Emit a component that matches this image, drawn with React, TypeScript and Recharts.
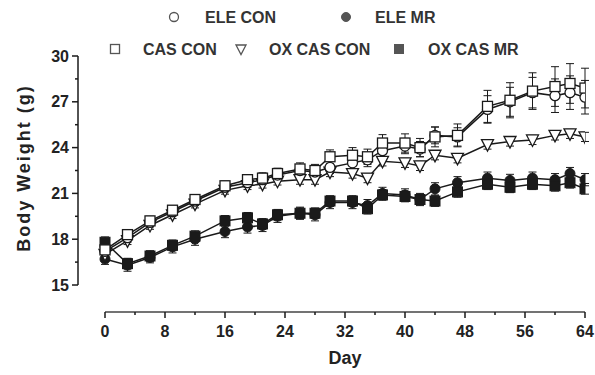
import React from 'react';
import { LineChart, Line, XAxis, YAxis, ErrorBar, ReferenceLine } from 'recharts';

const days = [0, 3, 6, 9, 12, 16, 19, 21, 23, 26, 28, 30, 33, 35, 37, 40, 42, 44, 47, 51, 54, 57, 60, 62, 64];

const casCon = [17.3, 18.3, 19.2, 19.9, 20.6, 21.5, 21.9, 22.0, 22.3, 22.6, 22.5, 23.4, 23.5, 23.4, 24.3, 24.3, 24.0, 24.7, 24.8, 26.7, 27.1, 27.7, 28.0, 28.2, 27.9];
const casConErr = [0.3, 0.3, 0.3, 0.3, 0.3, 0.3, 0.3, 0.35, 0.35, 0.4, 0.4, 0.45, 0.5, 0.5, 0.55, 0.6, 0.6, 0.65, 0.75, 1.05, 1.15, 1.2, 1.3, 1.3, 1.3];

const eleCon = [17.2, 18.1, 19.1, 19.8, 20.5, 21.4, 21.7, 21.9, 22.2, 22.5, 22.4, 22.7, 23.0, 23.2, 23.8, 24.1, 23.9, 24.8, 24.7, 26.5, 27.0, 27.6, 27.4, 27.6, 27.3];
const eleConErr = [0.3, 0.3, 0.3, 0.3, 0.3, 0.3, 0.3, 0.3, 0.35, 0.35, 0.35, 0.4, 0.4, 0.45, 0.5, 0.5, 0.5, 0.55, 0.6, 0.9, 0.95, 1.0, 1.1, 1.1, 1.1];

const oxCasCon = [17.0, 17.9, 18.9, 19.6, 20.3, 21.2, 21.5, 21.6, 21.8, 21.9, 21.9, 22.4, 22.3, 22.0, 23.1, 23.0, 22.8, 23.5, 23.3, 24.2, 24.4, 24.5, 24.8, 24.9, 24.7];
const oxCasConErr = [0.25, 0.25, 0.25, 0.25, 0.25, 0.25, 0.25, 0.25, 0.25, 0.3, 0.3, 0.3, 0.3, 0.3, 0.3, 0.3, 0.3, 0.3, 0.3, 0.3, 0.3, 0.3, 0.3, 0.3, 0.3];

const eleMr = [16.7, 16.3, 16.8, 17.5, 18.0, 18.5, 18.8, 18.9, 19.5, 19.7, 19.6, 20.4, 20.4, 20.2, 21.0, 20.9, 20.6, 21.3, 21.7, 22.0, 21.85, 22.0, 21.9, 22.3, 21.9];
const eleMrErr = [0.35, 0.4, 0.35, 0.4, 0.4, 0.4, 0.4, 0.4, 0.4, 0.4, 0.4, 0.4, 0.4, 0.4, 0.4, 0.4, 0.4, 0.4, 0.4, 0.4, 0.4, 0.4, 0.4, 0.4, 0.4];

const oxCasMr = [17.8, 16.4, 16.9, 17.6, 18.2, 19.2, 19.4, 19.0, 19.6, 19.7, 19.7, 20.5, 20.5, 20.0, 20.9, 20.8, 20.6, 20.5, 21.1, 21.6, 21.4, 21.6, 21.5, 21.7, 21.3];
const oxCasMrErr = [0.35, 0.35, 0.35, 0.35, 0.35, 0.35, 0.35, 0.35, 0.35, 0.35, 0.35, 0.35, 0.35, 0.35, 0.35, 0.35, 0.35, 0.35, 0.35, 0.35, 0.35, 0.35, 0.35, 0.35, 0.35];

const xTicks = [0, 4, 8, 12, 16, 20, 24, 28, 32, 36, 40, 44, 48, 52, 56, 60, 64];
const xLabelTicks = [0, 8, 16, 24, 32, 40, 48, 56, 64];
const yTicks = [15, 16.5, 18, 19.5, 21, 22.5, 24, 25.5, 27, 28.5, 30];
const yLabelTicks = [15, 18, 21, 24, 27, 30];

const xDomainMin = -3.6;
const yDomainMin = 13.232;

const data = days.map((d, i) => ({
  day: d,
  casCon: casCon[i], casConErr: casConErr[i],
  eleCon: eleCon[i], eleConErr: eleConErr[i],
  oxCasCon: oxCasCon[i], oxCasConErr: oxCasConErr[i],
  eleMr: eleMr[i], eleMrErr: eleMrErr[i],
  oxCasMr: oxCasMr[i], oxCasMrErr: oxCasMrErr[i],
}));

const INK = '#1a1a1a';
const FONT = "Arial, 'Liberation Sans', Helvetica, sans-serif";

type ShapeKind = 'openCircle' | 'filledCircle' | 'openSquare' | 'triangle' | 'filledSquare';

const drawShape = (kind: ShapeKind, cx: number, cy: number, s: number, stroke: string, key?: any) => {
  const h = s / 2;
  switch (kind) {
    case 'openCircle':
      return <circle key={key} cx={cx} cy={cy} r={h} fill="#fff" stroke={stroke} strokeWidth={1.3} />;
    case 'filledCircle':
      return <circle key={key} cx={cx} cy={cy} r={h} fill={stroke} stroke={stroke} strokeWidth={1} />;
    case 'openSquare':
      return <rect key={key} x={cx - h} y={cy - h} width={s} height={s} fill="#fff" stroke={stroke} strokeWidth={1.3} />;
    case 'filledSquare':
      return <rect key={key} x={cx - h} y={cy - h} width={s} height={s} fill={stroke} stroke={stroke} strokeWidth={1} />;
    case 'triangle':
    default:
      return (
        <polygon
          key={key}
          points={`${cx - h - 0.5},${cy - h + 0.5} ${cx + h + 0.5},${cy - h + 0.5} ${cx},${cy + h + 1}`}
          fill="#fff"
          stroke={stroke}
          strokeWidth={1.3}
        />
      );
  }
};

const makeDot = (kind: ShapeKind, size: number) => (p: any) => {
  if (p.cx == null || p.cy == null) return <g key={p.key} />;
  return drawShape(kind, p.cx, p.cy, size, INK, p.key);
};

const YTick = (props: any) => {
  const { x, y, payload } = props;
  const v = payload.value;
  const major = yLabelTicks.includes(v);
  return (
    <g>
      <line x1={x - (major ? 6 : 3)} x2={x} y1={y} y2={y} stroke={INK} strokeWidth={1.5} />
      {major && (
        <text x={x - 9} y={y} dy={5.5} textAnchor="end" fontSize={16} fontWeight="bold" fontFamily={FONT} fill="#222">
          {v}
        </text>
      )}
    </g>
  );
};

const XTick = (props: any) => {
  const { x, y, payload } = props;
  const v = payload.value;
  const major = xLabelTicks.includes(v);
  return (
    <g>
      <line x1={x} x2={x} y1={y} y2={y + (major ? 6 : 3)} stroke={INK} strokeWidth={1.5} />
      {major && (
        <text x={x} y={y + 25} textAnchor="middle" fontSize={16} fontWeight="bold" fontFamily={FONT} fill="#222">
          {v}
        </text>
      )}
    </g>
  );
};

const legendRow1: { kind: ShapeKind; label: string; mx: number; tx: number }[] = [
  { kind: 'openCircle', label: 'ELE CON', mx: 174, tx: 205 },
  { kind: 'filledCircle', label: 'ELE MR', mx: 346, tx: 375 },
];
const legendRow2: { kind: ShapeKind; label: string; mx: number; tx: number }[] = [
  { kind: 'openSquare', label: 'CAS CON', mx: 115, tx: 143 },
  { kind: 'triangle', label: 'OX CAS CON', mx: 241, tx: 269 },
  { kind: 'filledSquare', label: 'OX CAS MR', mx: 399, tx: 428 },
];

export default function App() {
  return (
    <div style={{ position: 'absolute', left: 0, top: 0, width: 595, height: 375, background: '#fff' }}>
      <LineChart
        width={595}
        height={375}
        data={data}
        margin={{ top: 56, right: 10, bottom: 0, left: 0 }}
      >
        <XAxis
          dataKey="day"
          type="number"
          domain={[xDomainMin, 64]}
          ticks={xTicks}
          interval={0}
          axisLine={false}
          tickLine={false}
          tickSize={0}
          tickMargin={0}
          height={63}
          tick={<XTick />}
          allowDataOverflow
        />
        <YAxis
          type="number"
          domain={[yDomainMin, 30]}
          ticks={yTicks}
          interval={0}
          axisLine={false}
          tickLine={false}
          tickSize={0}
          tickMargin={0}
          width={78}
          tick={<YTick />}
          allowDataOverflow
        />
        <ReferenceLine
          segment={[{ x: xDomainMin, y: 15 }, { x: xDomainMin, y: 30 }]}
          stroke={INK}
          strokeWidth={1.5}
          ifOverflow="visible"
        />
        <ReferenceLine
          segment={[{ x: 0, y: yDomainMin }, { x: 64, y: yDomainMin }]}
          stroke="#444"
          strokeWidth={1.5}
          ifOverflow="visible"
        />
        <Line dataKey="eleMr" stroke={INK} strokeWidth={1.5} isAnimationActive={false} dot={makeDot('filledCircle', 10)} activeDot={false}>
          <ErrorBar dataKey="eleMrErr" width={4} stroke={INK} strokeWidth={1} direction="y" />
        </Line>
        <Line dataKey="oxCasMr" stroke={INK} strokeWidth={1.5} isAnimationActive={false} dot={makeDot('filledSquare', 10)} activeDot={false}>
          <ErrorBar dataKey="oxCasMrErr" width={4} stroke={INK} strokeWidth={1} direction="y" />
        </Line>
        <Line dataKey="oxCasCon" stroke={INK} strokeWidth={1.5} isAnimationActive={false} dot={makeDot('triangle', 11)} activeDot={false}>
          <ErrorBar dataKey="oxCasConErr" width={4} stroke={INK} strokeWidth={1} direction="y" />
        </Line>
        <Line dataKey="eleCon" stroke={INK} strokeWidth={1.5} isAnimationActive={false} dot={makeDot('openCircle', 10)} activeDot={false}>
          <ErrorBar dataKey="eleConErr" width={4} stroke={INK} strokeWidth={1} direction="y" />
        </Line>
        <Line dataKey="casCon" stroke={INK} strokeWidth={1.5} isAnimationActive={false} dot={makeDot('openSquare', 10)} activeDot={false}>
          <ErrorBar dataKey="casConErr" width={4} stroke={INK} strokeWidth={1} direction="y" />
        </Line>
      </LineChart>
      <svg width={595} height={375} style={{ position: 'absolute', left: 0, top: 0, pointerEvents: 'none' }}>
        {legendRow1.map((l) => (
          <g key={l.label}>
            {drawShape(l.kind, l.mx, 17, 9, '#555')}
            <text x={l.tx} y={22.5} fontSize={16} fontWeight="bold" fontFamily={FONT} fill="#333">{l.label}</text>
          </g>
        ))}
        {legendRow2.map((l) => (
          <g key={l.label}>
            {drawShape(l.kind, l.mx, 49, 9, '#555')}
            <text x={l.tx} y={54.5} fontSize={16} fontWeight="bold" fontFamily={FONT} fill="#333">{l.label}</text>
          </g>
        ))}
        <text
          x={24}
          y={168}
          transform="rotate(-90 24 168)"
          textAnchor="middle"
          dominantBaseline="central"
          fontSize={18}
          fontWeight="bold"
          letterSpacing={2}
          fontFamily={FONT}
          fill="#222"
        >
          Body Weight (g)
        </text>
        <text x={345} y={364} textAnchor="middle" fontSize={18} fontWeight="bold" fontFamily={FONT} fill="#222">
          Day
        </text>
      </svg>
    </div>
  );
}
